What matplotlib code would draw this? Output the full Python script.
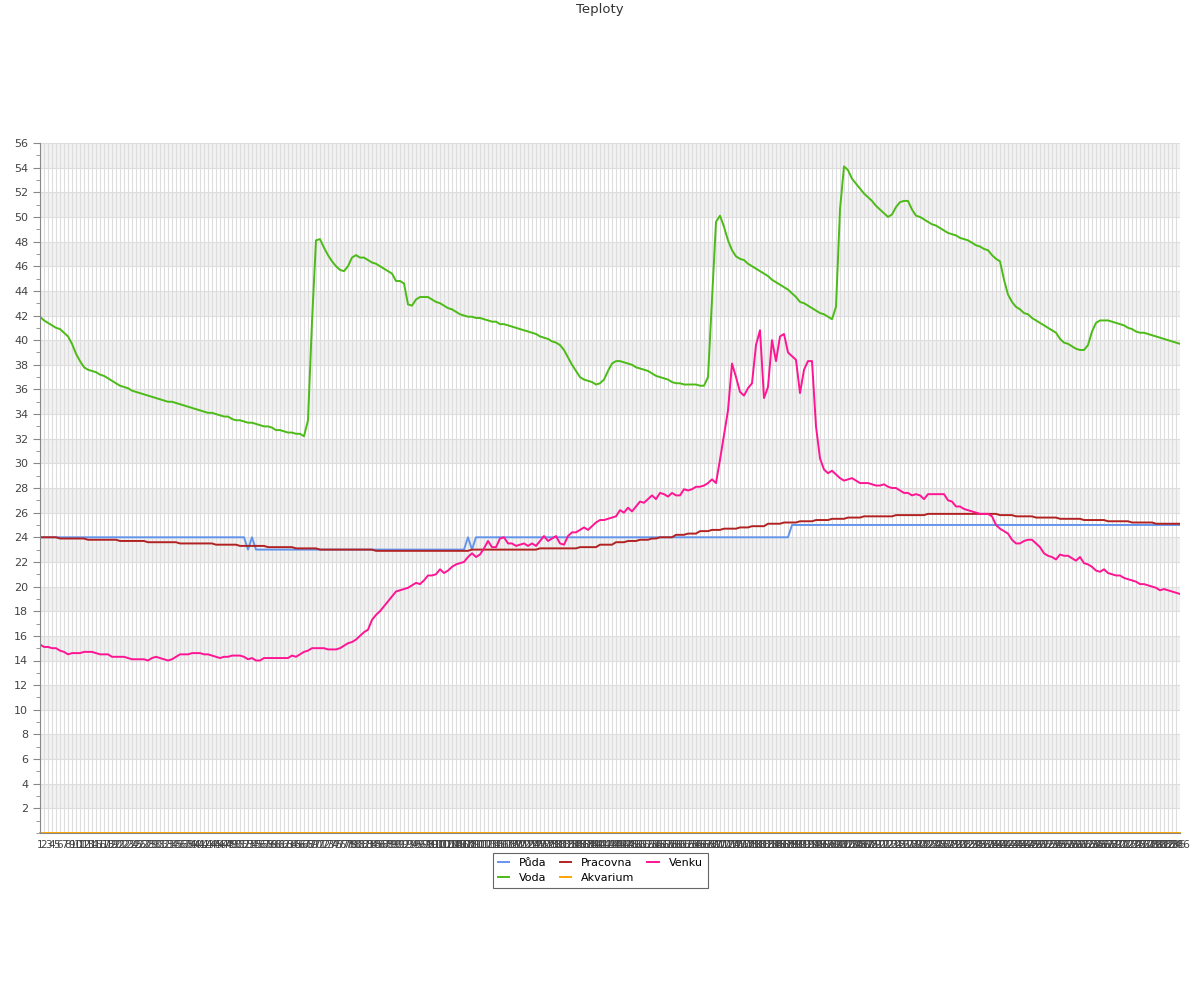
import matplotlib
matplotlib.use("Agg")
import matplotlib.pyplot as plt
from matplotlib.ticker import MultipleLocator

# x axis: one reading per sample, labelled 1..286
labels = [str(i) for i in range(1, 287)]

puda = ([24] * 52 + [23, 24] + [23] * 53 + [24, 23] + [24] * 79 + [25] * 98)

voda = [
    41.9, 41.6, 41.4, 41.2, 41.0, 40.9, 40.6, 40.3, 39.7, 38.9, 38.3, 37.8, 37.6, 37.5, 37.4, 37.2,
    37.1, 36.9, 36.7, 36.5, 36.3, 36.2, 36.1, 35.9, 35.8, 35.7, 35.6, 35.5, 35.4, 35.3, 35.2, 35.1,
    35.0, 35.0, 34.9, 34.8, 34.7, 34.6, 34.5, 34.4, 34.3, 34.2, 34.1, 34.1, 34.0, 33.9, 33.8, 33.8,
    33.6, 33.5, 33.5, 33.4, 33.3, 33.3, 33.2, 33.1, 33.0, 33.0, 32.9, 32.7, 32.7, 32.6, 32.5, 32.5,
    32.4, 32.4, 32.2,
    33.5, 41.5, 48.1, 48.2, 47.5, 46.9, 46.4, 46.0, 45.7, 45.6, 46.0, 46.7, 46.9, 46.7, 46.7, 46.5,
    46.3, 46.2, 46.0, 45.8, 45.6, 45.4, 44.8, 44.8, 44.6, 42.9, 42.8, 43.3, 43.5,
    43.5, 43.5, 43.3, 43.1, 43.0, 42.8, 42.6, 42.5, 42.3, 42.1, 42.0, 41.9, 41.9, 41.8, 41.8, 41.7,
    41.6, 41.5, 41.5, 41.3, 41.3, 41.2, 41.1, 41.0, 40.9, 40.8, 40.7, 40.6, 40.5, 40.3, 40.2, 40.1,
    39.9, 39.8, 39.6, 39.2, 38.6, 38.0, 37.5, 37.0, 36.8, 36.7, 36.6, 36.4, 36.5, 36.8, 37.5,
    38.1, 38.3, 38.3, 38.2, 38.1, 38.0, 37.8, 37.7, 37.6, 37.5, 37.3, 37.1, 37.0, 36.9, 36.8, 36.6,
    36.5, 36.5, 36.4, 36.4, 36.4, 36.4, 36.3, 36.3, 37.0, 43.3, 49.6, 50.1, 49.2, 48.1, 47.3, 46.8,
    46.6, 46.5, 46.2, 46.0, 45.8, 45.6, 45.4, 45.2, 44.9, 44.7, 44.5, 44.3, 44.1, 43.8, 43.5, 43.1,
    43.0, 42.8, 42.6, 42.4, 42.2, 42.1, 41.9, 41.7, 42.7, 50.6, 54.1, 53.8, 53.1, 52.7, 52.3, 51.9,
    51.6, 51.3, 50.9, 50.6, 50.3, 50.0, 50.2, 50.8, 51.2, 51.3, 51.3, 50.6, 50.1, 50.0, 49.8, 49.6,
    49.4, 49.3, 49.1, 48.9, 48.7, 48.6, 48.5, 48.3, 48.2, 48.1, 47.9, 47.7, 47.6, 47.4, 47.3,
    46.9, 46.6, 46.4, 44.9, 43.7, 43.1, 42.7, 42.5, 42.2, 42.1, 41.8, 41.6, 41.4, 41.2, 41.0, 40.8,
    40.6, 40.1, 39.8, 39.7, 39.5, 39.3, 39.2, 39.2, 39.6, 40.7, 41.4, 41.6, 41.6, 41.6, 41.5, 41.4,
    41.3, 41.2, 41.0, 40.9, 40.7, 40.6, 40.6, 40.5, 40.4, 40.3, 40.2, 40.1, 40.0, 39.9, 39.8, 39.7,
]

pracovna = ([24.0] * 5 + [23.9] * 7 + [23.8] * 8 + [23.7] * 7 + [23.6] * 8 + [23.5] * 9
            + [23.4] * 6 + [23.3] * 7 + [23.2] * 7 + [23.1] * 6 + [23.0] * 14 + [22.9] * 24
            + [23.0] * 17 + [23.1] * 10 + [23.2] * 5 + [23.4] * 4 + [23.6] * 3 + [23.7] * 3
            + [23.8] * 3 + [23.9] * 2 + [24.0] * 4 + [24.2] * 3 + [24.3] * 3 + [24.5] * 3
            + [24.6] * 3 + [24.7] * 4 + [24.8] * 3 + [24.9] * 4 + [25.1] * 4 + [25.2] * 4
            + [25.3] * 4 + [25.4] * 4 + [25.5] * 4 + [25.6] * 4 + [25.7] * 8 + [25.8] * 8
            + [25.9] * 18 + [25.8] * 4 + [25.7] * 5 + [25.6] * 6 + [25.5] * 6 + [25.4] * 6
            + [25.3] * 6 + [25.2] * 6 + [25.1] * 7)

akvarium = [0] * 286

venku = [
    15.3, 15.1, 15.1, 15.0, 15.0, 14.8, 14.7, 14.5, 14.6, 14.6, 14.6, 14.7, 14.7, 14.7, 14.6, 14.5,
    14.5, 14.5, 14.3, 14.3, 14.3, 14.3, 14.2, 14.1, 14.1, 14.1, 14.1, 14.0, 14.2, 14.3, 14.2, 14.1,
    14.0, 14.1, 14.3, 14.5, 14.5, 14.5, 14.6, 14.6, 14.6, 14.5, 14.5, 14.4, 14.3, 14.2, 14.3, 14.3,
    14.4, 14.4, 14.4, 14.3, 14.1, 14.2, 14.0, 14.0, 14.2, 14.2, 14.2, 14.2, 14.2, 14.2, 14.2, 14.4,
    14.3, 14.5, 14.7, 14.8, 15.0, 15.0, 15.0, 15.0, 14.9, 14.9, 14.9, 15.0, 15.2, 15.4, 15.5, 15.7,
    16.0, 16.3, 16.5,
    17.3, 17.7, 18.0, 18.4, 18.8, 19.2, 19.6, 19.7, 19.8, 19.9, 20.1, 20.3, 20.2, 20.5, 20.9, 20.9,
    21.0, 21.4, 21.1, 21.3, 21.6, 21.8, 21.9, 22.0, 22.4, 22.7, 22.4, 22.6, 23.1, 23.7, 23.2, 23.2,
    23.9, 24.0, 23.5, 23.5, 23.3, 23.4, 23.5, 23.3, 23.5, 23.3, 23.7, 24.1, 23.7, 23.9, 24.1, 23.5,
    23.4, 24.1, 24.4, 24.4, 24.6, 24.8, 24.6, 24.9, 25.2, 25.4, 25.4,
    25.5, 25.6, 25.7, 26.2, 26.0, 26.4, 26.1, 26.5, 26.9, 26.8, 27.1, 27.4, 27.1, 27.6, 27.5, 27.3,
    27.6, 27.4, 27.4, 27.9, 27.8, 27.9, 28.1, 28.1, 28.2, 28.4, 28.7, 28.4, 30.3, 32.3, 34.3, 38.1,
    37.0, 35.8, 35.5, 36.1, 36.5, 39.6, 40.8, 35.3, 36.2, 40.0, 38.3, 40.3, 40.5, 39.0, 38.7, 38.4,
    35.7,
    37.6, 38.3, 38.3, 33.0, 30.4, 29.5, 29.2, 29.4, 29.1, 28.8, 28.6, 28.7, 28.8, 28.6, 28.4, 28.4,
    28.4, 28.3, 28.2, 28.2, 28.3, 28.1, 28.0, 28.0, 27.8, 27.6, 27.6, 27.4, 27.5, 27.4, 27.1, 27.5,
    27.5, 27.5, 27.5, 27.5, 27.0, 26.9, 26.5, 26.5, 26.3, 26.2, 26.1, 26.0, 25.9, 25.9, 25.9,
    25.7, 25.0, 24.7, 24.5, 24.3, 23.8, 23.5, 23.5, 23.7, 23.8, 23.8, 23.5, 23.2, 22.7, 22.5, 22.4,
    22.2, 22.6, 22.5, 22.5, 22.3, 22.1, 22.4, 21.9, 21.8, 21.6, 21.3, 21.2, 21.4, 21.1, 21.0, 20.9,
    20.9, 20.7, 20.6, 20.5, 20.4, 20.2, 20.2, 20.1, 20.0, 19.9, 19.7, 19.8, 19.7, 19.6, 19.5, 19.4,
]

x = list(range(1, len(labels) + 1))

fig = plt.figure(figsize=(12, 10), dpi=100)
ax = fig.add_axes([40 / 1200, 1 - 833 / 1000, 1140 / 1200, 690 / 1000])

# alternating grey bands
for lo in range(2, 56, 4):
    ax.axhspan(lo, lo + 2, color="#f2f2f2", zorder=0, lw=0)

ax.set_xlim(1, len(labels))
ax.set_ylim(0, 56)
ax.set_xticks(x)
ax.set_xticklabels(labels, fontsize=7.5, color="#444444")
ax.set_yticks(range(2, 57, 2))
ax.yaxis.set_minor_locator(MultipleLocator(1))
ax.tick_params(axis="y", labelsize=8, colors="#444444", length=5, color="#888888")
ax.tick_params(axis="y", which="minor", length=3, color="#888888")
ax.tick_params(axis="x", length=0, pad=5)
ax.grid(True, axis="both", color="#dddddd", linewidth=0.8, zorder=0.5)
ax.set_axisbelow(True)
for side in ["top", "right"]:
    ax.spines[side].set_visible(False)
ax.spines["left"].set_color("#888888")
ax.spines["bottom"].set_color("#888888")

lw = 1.4
l_puda, = ax.plot(x, puda, color="#6495ED", lw=lw, label="Půda")
l_voda, = ax.plot(x, voda, color="#4CBB17", lw=lw, label="Voda")
l_prac, = ax.plot(x, pracovna, color="#B22222", lw=lw, label="Pracovna")
l_akv, = ax.plot(x, akvarium, color="#FFA500", lw=lw, label="Akvarium", clip_on=False)
l_ven, = ax.plot(x, venku, color="#FF1493", lw=lw, label="Venku")

leg = fig.legend([l_puda, l_voda, l_prac, l_akv, l_ven],
                 ["Půda", "Voda", "Pracovna", "Akvarium", "Venku"],
                 loc="upper center", bbox_to_anchor=(0.5, 0.153), ncol=3,
                 fontsize=8, fancybox=False, edgecolor="#666666", framealpha=1,
                 handlelength=1.0, handletextpad=0.9, columnspacing=1.2,
                 borderpad=0.45, labelspacing=0.45)
leg.get_frame().set_linewidth(0.8)

fig.text(0.5, 0.99, "Teploty", ha="center", va="center", fontsize=9.5, color="#333333")

fig.savefig("out.png", dpi=100)
